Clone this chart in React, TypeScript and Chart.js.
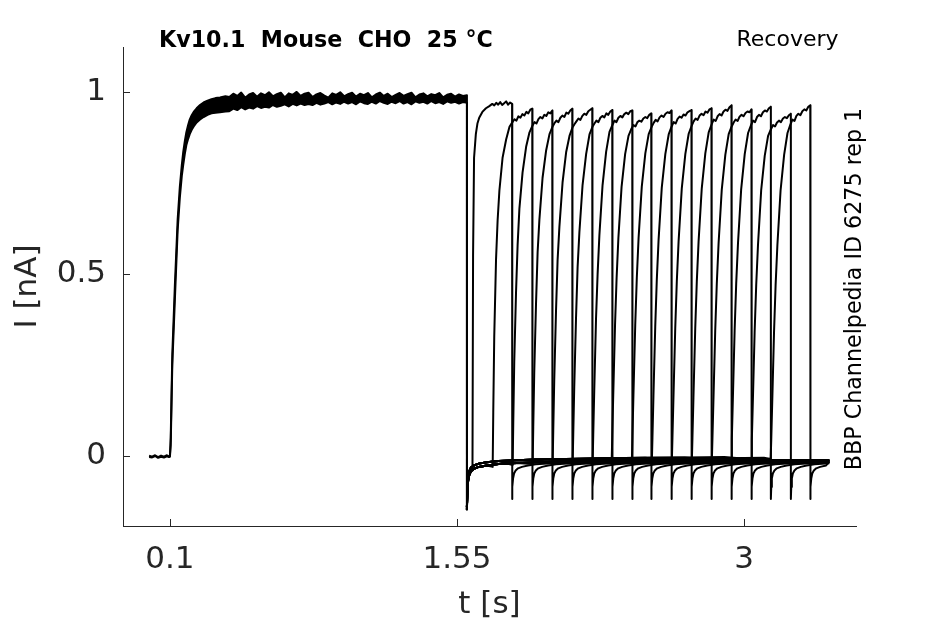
import React, { useEffect, useRef } from "react";
import { Chart, registerables } from "chart.js";

Chart.register(...registerables);

// ---------- axes ----------
const xLimits = [-0.137, 3.565];
const yLimits = [-0.1925, 1.1245];
const xTicks = [0.1, 1.55, 3];
const yTicks = [0, 0.5, 1];

// ---------- main (conditioning) pulse, upper and lower envelope of the overlapping sweeps ----------
const mainT = [
  -0.005, 0.01, 0.025, 0.04, 0.055, 0.07, 0.085, 0.095, 0.1,
  0.104, 0.112, 0.125, 0.139, 0.15, 0.16, 0.167, 0.175, 0.183, 0.192, 0.2,
  0.21, 0.22, 0.235, 0.252, 0.27, 0.29, 0.31, 0.33, 0.353, 0.38,
  0.4, 0.42, 0.44, 0.46, 0.48, 0.5, 0.52, 0.54, 0.56, 0.58,
  0.6, 0.62, 0.64, 0.66, 0.68, 0.7, 0.72, 0.74, 0.76, 0.78,
  0.8, 0.82, 0.84, 0.86, 0.88, 0.9, 0.92, 0.94, 0.96, 0.98,
  1.0, 1.02, 1.04, 1.06, 1.08, 1.1, 1.12, 1.14, 1.16, 1.18,
  1.2, 1.22, 1.24, 1.26, 1.28, 1.3, 1.32, 1.34, 1.36, 1.38,
  1.4, 1.42, 1.44, 1.46, 1.48, 1.5, 1.52, 1.54, 1.56, 1.58,
  1.6, 1.6,
];
const mainUpper = [
  0.001, -0.002, 0.002, -0.003, 0.001, -0.002, 0.002, -0.001, 0.001,
  0.05, 0.28, 0.47, 0.65, 0.74, 0.8, 0.835, 0.865, 0.89, 0.91, 0.925,
  0.937, 0.946, 0.956, 0.965, 0.972, 0.977, 0.981, 0.984, 0.986, 0.989,
  0.987, 0.996, 0.99, 0.999, 0.985, 0.994, 0.998, 0.988, 0.997, 0.992,
  1.0, 0.989, 0.995, 0.999, 0.986, 0.997, 0.993, 1.001, 0.99, 0.996,
  0.999, 0.987, 0.994, 0.998, 0.991, 0.985, 0.997, 0.993, 1.0, 0.989,
  0.995, 0.999, 0.988, 0.996, 0.992, 0.998, 0.986, 0.994, 0.999, 0.99,
  0.996, 0.987, 0.993, 0.998, 0.99, 0.995, 0.999, 0.986, 0.994, 0.997,
  0.989, 0.995, 0.992, 0.998, 0.986, 0.993, 0.996, 0.988, 0.994, 0.99,
  0.992, -0.148,
];
const mainLower = [
  -0.003, -0.004, 0.0, -0.005, -0.002, -0.004, -0.001, -0.003, -0.002,
  0.03, 0.25, 0.43, 0.62, 0.71, 0.77, 0.8, 0.83, 0.855, 0.872, 0.885,
  0.897, 0.906, 0.917, 0.925, 0.932, 0.938, 0.942, 0.944, 0.945, 0.947,
  0.948, 0.955, 0.951, 0.959, 0.953, 0.958, 0.955, 0.962, 0.957, 0.96,
  0.958, 0.965, 0.96, 0.963, 0.967, 0.961, 0.968, 0.964, 0.969, 0.965,
  0.968, 0.965, 0.971, 0.966, 0.969, 0.973, 0.967, 0.972, 0.968, 0.974,
  0.969, 0.973, 0.967, 0.975, 0.97, 0.968, 0.974, 0.969, 0.976, 0.971,
  0.968, 0.974, 0.97, 0.976, 0.969, 0.973, 0.967, 0.975, 0.971, 0.974,
  0.969, 0.976, 0.97, 0.973, 0.968, 0.975, 0.971, 0.974, 0.969, 0.973,
  0.971, -0.14,
];

// ---------- recovery interval baseline (after the conditioning pulse) ----------
const gapT = [1.6, 1.602, 1.606, 1.612, 1.62, 1.635, 1.66, 1.7, 1.76, 1.85, 1.95, 2.1, 2.3, 2.5, 2.7, 2.9, 3.1, 3.2];
const gapUpper = [-0.148, -0.09, -0.058, -0.042, -0.032, -0.026, -0.021, -0.017, -0.014, -0.012, -0.01, -0.008, -0.006, -0.005, -0.004, -0.003, -0.002, -0.002];
const gapLower = [-0.14, -0.1, -0.068, -0.052, -0.042, -0.035, -0.03, -0.026, -0.022, -0.019, -0.017, -0.014, -0.011, -0.009, -0.008, -0.006, -0.005, -0.005];

// ---------- test pulses (one per sweep) ----------
const testOnsets = [1.628, 1.73, 1.831, 1.932, 2.033, 2.134, 2.235, 2.331, 2.433, 2.534, 2.635, 2.736, 2.837, 2.935, 3.036, 3.134];
const testT = [0, 0.003, 0.008, 0.017, 0.025, 0.034, 0.05, 0.068, 0.085, 0.1, 0.11, 0.12, 0.13, 0.14, 0.15, 0.16, 0.17, 0.18, 0.19, 0.2];
const pulse01 = [-0.04, 0.55, 0.82, 0.885, 0.914, 0.93, 0.946, 0.956, 0.962, 0.968, 0.964, 0.971, 0.966, 0.973, 0.965, 0.97, 0.975, 0.966, 0.972, 0.968];
const pulse02 = [-0.03, 0.12, 0.33, 0.54, 0.648, 0.73, 0.82, 0.87, 0.905, 0.918, 0.926, 0.922, 0.934, 0.93, 0.94, 0.936, 0.946, 0.942, 0.952, 0.955];
const pulse03 = [-0.025, 0.09, 0.26, 0.45, 0.58, 0.68, 0.78, 0.85, 0.89, 0.908, 0.918, 0.914, 0.926, 0.932, 0.928, 0.938, 0.935, 0.945, 0.942, 0.95];
const pulse04 = [-0.022, 0.08, 0.23, 0.42, 0.56, 0.65, 0.765, 0.84, 0.885, 0.905, 0.915, 0.922, 0.918, 0.93, 0.936, 0.932, 0.944, 0.941, 0.95, 0.955];
const pulse05 = [-0.02, 0.07, 0.21, 0.4, 0.54, 0.63, 0.752, 0.835, 0.88, 0.903, 0.912, 0.92, 0.928, 0.924, 0.935, 0.941, 0.938, 0.948, 0.952, 0.956];
const pulse06 = [-0.018, 0.06, 0.19, 0.38, 0.52, 0.615, 0.745, 0.83, 0.884, 0.905, 0.914, 0.922, 0.918, 0.93, 0.935, 0.931, 0.942, 0.938, 0.947, 0.951];
const pulse07 = [-0.017, 0.06, 0.18, 0.378, 0.5, 0.607, 0.745, 0.836, 0.891, 0.91, 0.922, 0.918, 0.93, 0.935, 0.931, 0.94, 0.944, 0.94, 0.948, 0.95];
const pulse08 = [-0.016, 0.055, 0.17, 0.36, 0.49, 0.6, 0.74, 0.83, 0.88, 0.9, 0.91, 0.906, 0.918, 0.922, 0.919, 0.928, 0.932, 0.929, 0.938, 0.942];
const pulse09 = [-0.015, 0.055, 0.17, 0.36, 0.49, 0.6, 0.74, 0.832, 0.885, 0.905, 0.916, 0.924, 0.92, 0.931, 0.936, 0.932, 0.941, 0.945, 0.943, 0.95];
const pulse10 = [-0.014, 0.05, 0.165, 0.355, 0.485, 0.595, 0.738, 0.83, 0.884, 0.906, 0.918, 0.914, 0.927, 0.933, 0.93, 0.939, 0.936, 0.945, 0.948, 0.951];
const pulse11 = [-0.013, 0.05, 0.16, 0.35, 0.48, 0.59, 0.735, 0.83, 0.886, 0.908, 0.92, 0.928, 0.924, 0.936, 0.941, 0.937, 0.947, 0.944, 0.953, 0.956];
const pulse12 = [-0.012, 0.05, 0.16, 0.35, 0.48, 0.59, 0.736, 0.832, 0.89, 0.912, 0.925, 0.921, 0.934, 0.94, 0.936, 0.947, 0.952, 0.949, 0.959, 0.964];
const pulse13 = [-0.011, 0.048, 0.155, 0.345, 0.475, 0.585, 0.732, 0.828, 0.885, 0.906, 0.917, 0.925, 0.921, 0.933, 0.938, 0.934, 0.943, 0.947, 0.945, 0.953];
const pulse14 = [-0.01, 0.048, 0.155, 0.345, 0.475, 0.585, 0.733, 0.83, 0.888, 0.91, 0.922, 0.918, 0.932, 0.938, 0.934, 0.945, 0.95, 0.947, 0.956, 0.96];
const pulse15 = [-0.009, 0.045, 0.15, 0.34, 0.47, 0.58, 0.73, 0.825, 0.88, 0.899, 0.91, 0.906, 0.917, 0.922, 0.918, 0.928, 0.932, 0.929, 0.937, 0.941];
const pulse16 = [-0.008, 0.045, 0.15, 0.34, 0.47, 0.58, 0.73, 0.828, 0.888, 0.912, 0.925, 0.921, 0.935, 0.941, 0.937, 0.948, 0.953, 0.95, 0.96, 0.964];
const testPulses = [pulse01, pulse02, pulse03, pulse04, pulse05, pulse06, pulse07, pulse08, pulse09, pulse10, pulse11, pulse12, pulse13, pulse14, pulse15, pulse16];

// ---------- tail current after each test pulse ----------
const tailT = [0, 0.002, 0.005, 0.01, 0.018, 0.03, 0.05, 0.08, 0.12, 0.2, 0.35, 0.6, 1.0];
const tailI = [-0.118, -0.085, -0.062, -0.048, -0.04, -0.034, -0.03, -0.026, -0.023, -0.02, -0.017, -0.014, -0.012];
const sweepEnd = 3.43;
const sweepEndI = [-0.011, -0.012, -0.012, -0.013, -0.012, -0.013, -0.013, -0.014, -0.014, -0.015, -0.015, -0.016, -0.017, -0.018, -0.02, -0.016];

const INK = "#262626";
const FONT = "'DejaVu Sans', 'Open Sans', sans-serif";

function sweepData(k: number) {
  const onset = testOnsets[k];
  const gap = k % 2 === 0 ? gapUpper : gapLower;
  const pts: { x: number; y: number }[] = [];
  gapT.forEach((t, i) => {
    if (t < onset) pts.push({ x: t, y: gap[i] });
  });
  const row = testPulses[k];
  testT.forEach((r, i) => pts.push({ x: onset + r, y: row[i] }));
  const drop = onset + testT[testT.length - 1];
  tailT.forEach((r, i) => {
    if (drop + r < sweepEnd) pts.push({ x: drop + r, y: tailI[i] });
  });
  pts.push({ x: sweepEnd, y: sweepEndI[k] });
  return pts;
}

const decorPlugin = {
  id: "decor",
  afterDraw(chart: any) {
    const { ctx, chartArea, scales } = chart;
    ctx.save();
    ctx.strokeStyle = INK;
    ctx.lineWidth = 1;
    const tl = 7;
    scales.x.ticks.forEach((t: any) => {
      const px = Math.round(scales.x.getPixelForValue(t.value)) + 0.5;
      ctx.beginPath();
      ctx.moveTo(px, chartArea.bottom);
      ctx.lineTo(px, chartArea.bottom - tl);
      ctx.stroke();
    });
    scales.y.ticks.forEach((t: any) => {
      const py = Math.round(scales.y.getPixelForValue(t.value)) + 0.5;
      ctx.beginPath();
      ctx.moveTo(chartArea.left, py);
      ctx.lineTo(chartArea.left + tl, py);
      ctx.stroke();
    });

    ctx.fillStyle = "#000";
    ctx.textBaseline = "alphabetic";
    ctx.font = `bold 22.2px ${FONT}`;
    ctx.textAlign = "left";
    ctx.fillText("Kv10.1  Mouse  CHO  25 °C", 159, 46.5);
    ctx.font = `22px ${FONT}`;
    ctx.textAlign = "right";
    ctx.fillText("Recovery", 838.5, 46);
    ctx.font = `22.2px ${FONT}`;
    ctx.translate(861, 289);
    ctx.rotate(-Math.PI / 2);
    ctx.textAlign = "center";
    ctx.fillText("BBP Channelpedia ID 6275 rep 1", 0, 0);
    ctx.restore();
  },
};

export default function App() {
  const ref = useRef<HTMLCanvasElement>(null);
  useEffect(() => {
    if (!ref.current) return;
    const lineStyle = {
      borderColor: "#000",
      backgroundColor: "#000",
      borderWidth: 2,
      pointRadius: 0,
      tension: 0,
      fill: false as any,
      borderJoinStyle: "round" as const,
    };
    const datasets: any[] = [
      { ...lineStyle, data: mainT.map((t, i) => ({ x: t, y: mainUpper[i] })) },
      { ...lineStyle, fill: "-1", data: mainT.map((t, i) => ({ x: t, y: mainLower[i] })) },
    ];
    testOnsets.forEach((_, k) => datasets.push({ ...lineStyle, data: sweepData(k) }));

    const chart = new Chart(ref.current, {
      type: "line",
      data: { datasets },
      options: {
        animation: false,
        responsive: false,
        events: [],
        layout: { padding: { top: 47, right: 89, bottom: 0, left: 0 } },
        plugins: {
          legend: { display: false },
          tooltip: { enabled: false },
          title: { display: false },
          filler: { propagate: false },
        },
        scales: {
          x: {
            type: "linear",
            min: xLimits[0],
            max: xLimits[1],
            afterBuildTicks: (s: any) => {
              s.ticks = xTicks.map((v) => ({ value: v }));
            },
            afterFit: (s: any) => {
              s.height = 98;
            },
            grid: { display: false, drawTicks: false },
            border: { display: true, color: INK, width: 1 },
            ticks: {
              color: INK,
              font: { family: FONT, size: 31 },
              padding: 15,
              maxRotation: 0,
              autoSkip: false,
              callback: (v: any) => String(v),
            },
            title: {
              display: true,
              text: "t [s]",
              color: INK,
              font: { family: FONT, size: 31 },
              padding: { top: 0, bottom: 0 },
            },
          },
          y: {
            type: "linear",
            min: yLimits[0],
            max: yLimits[1],
            afterBuildTicks: (s: any) => {
              s.ticks = yTicks.map((v) => ({ value: v }));
            },
            afterFit: (s: any) => {
              s.width = 123;
            },
            grid: { display: false, drawTicks: false },
            border: { display: true, color: INK, width: 1 },
            ticks: {
              color: INK,
              font: { family: FONT, size: 31 },
              padding: 17,
              autoSkip: false,
              callback: (v: any) => String(v),
            },
            title: {
              display: true,
              text: "I [nA]",
              color: INK,
              font: { family: FONT, size: 31 },
              padding: { top: 9, bottom: 0 },
            },
          },
        },
      } as any,
      plugins: [decorPlugin],
    });
    return () => chart.destroy();
  }, []);

  return (
    <div style={{ position: "absolute", left: 0, top: 0, width: 945, height: 624, background: "#fff" }}>
      <canvas ref={ref} width={945} height={624} style={{ display: "block", width: 945, height: 624 }} />
    </div>
  );
}
